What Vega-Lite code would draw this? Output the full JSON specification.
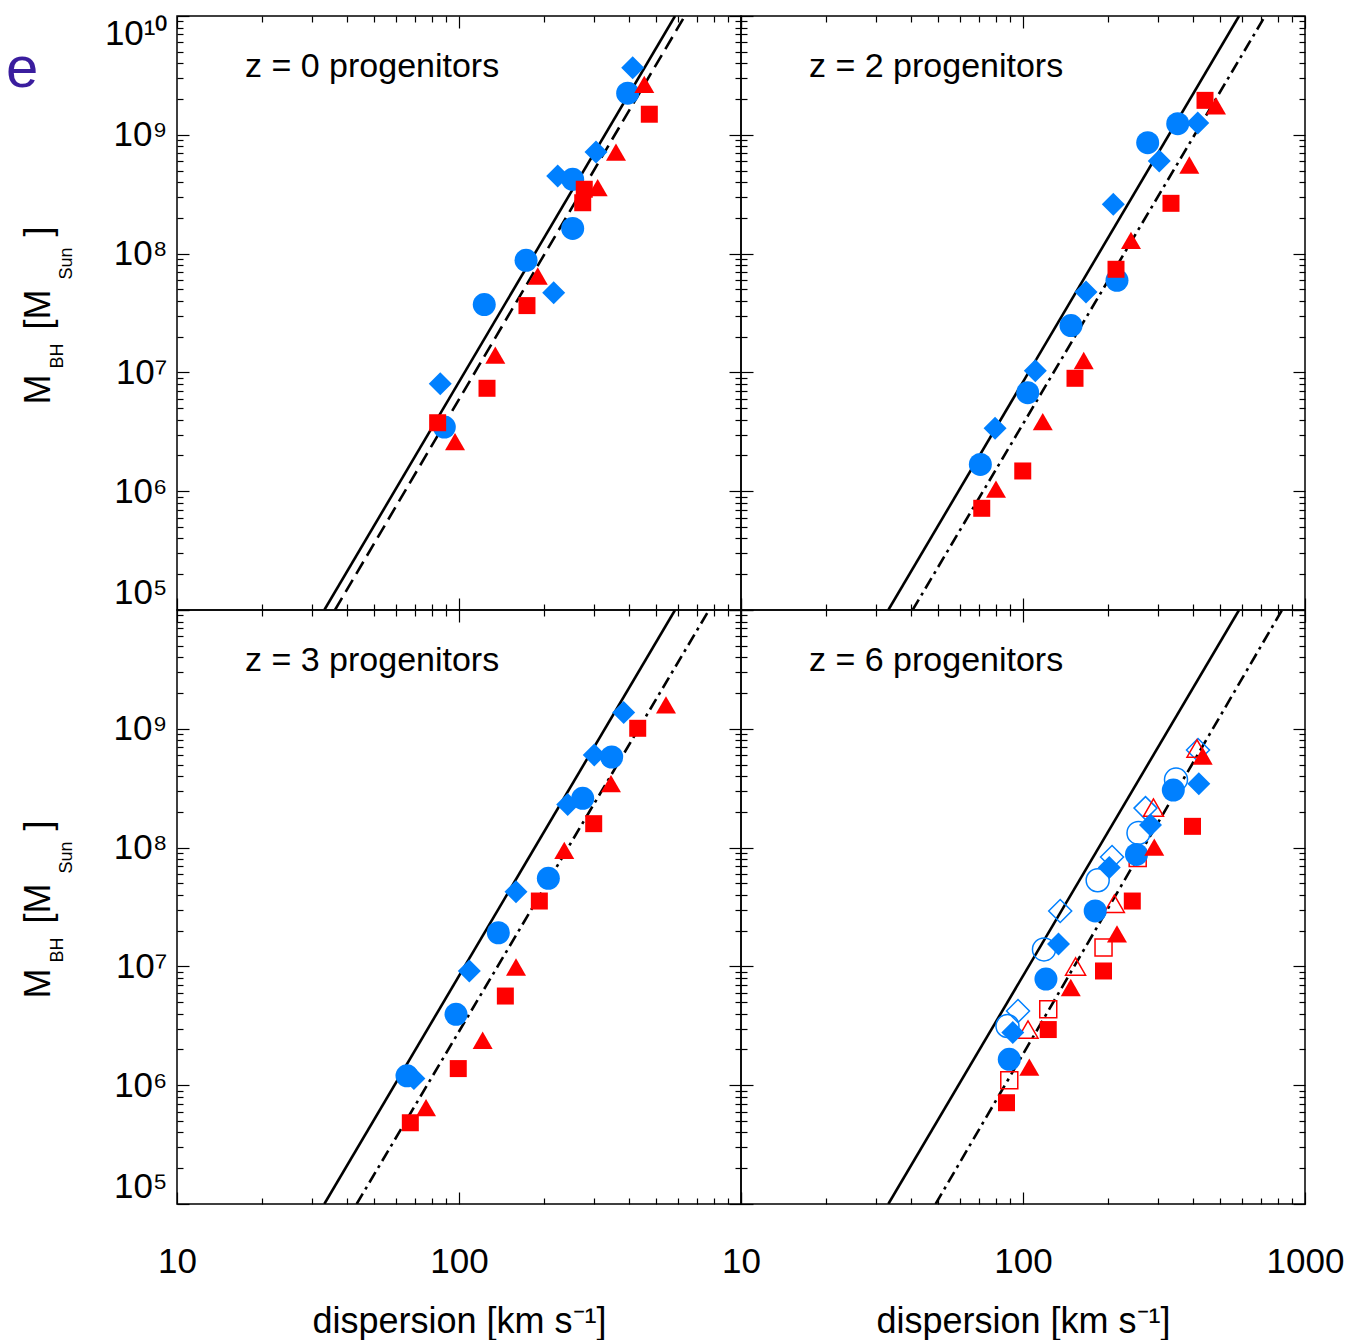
{
  "$schema": "https://vega.github.io/schema/vega-lite/v6.json",
  "background": "white",
  "padding": {"left": 5, "top": 14, "right": 0, "bottom": 0},
  "columns": 2,
  "spacing": 0,
  "bounds": "flush",
  "datasets": {
    "pts": [
      {"panel":"z0","fill":"filled","series":"B","sigma":413,"mass":3.67e9},
      {"panel":"z0","fill":"filled","series":"B","sigma":306,"mass":7.16e8},
      {"panel":"z0","fill":"filled","series":"B","sigma":223.9,"mass":4.5e8},
      {"panel":"z0","fill":"filled","series":"B","sigma":216.7,"mass":4.69e7},
      {"panel":"z0","fill":"filled","series":"B","sigma":85.8,"mass":8.03e6},
      {"panel":"z0","fill":"filled","series":"A","sigma":396.4,"mass":2.24e9},
      {"panel":"z0","fill":"filled","series":"A","sigma":253,"mass":4.22e8},
      {"panel":"z0","fill":"filled","series":"A","sigma":253,"mass":1.63e8},
      {"panel":"z0","fill":"filled","series":"A","sigma":172.9,"mass":8.78e7},
      {"panel":"z0","fill":"filled","series":"A","sigma":122.9,"mass":3.72e7},
      {"panel":"z0","fill":"filled","series":"A","sigma":88.7,"mass":3.47e6},
      {"panel":"z0","fill":"filled","series":"C","sigma":473,"mass":1.49e9},
      {"panel":"z0","fill":"filled","series":"C","sigma":278.1,"mass":3.48e8},
      {"panel":"z0","fill":"filled","series":"C","sigma":274.6,"mass":2.68e8},
      {"panel":"z0","fill":"filled","series":"C","sigma":174.2,"mass":3.65e7},
      {"panel":"z0","fill":"filled","series":"C","sigma":125.7,"mass":7.35e6},
      {"panel":"z0","fill":"filled","series":"C","sigma":84.0,"mass":3.77e6},
      {"panel":"z0","fill":"filled","series":"D","sigma":454,"mass":2.66e9},
      {"panel":"z0","fill":"filled","series":"D","sigma":360.3,"mass":7.16e8},
      {"panel":"z0","fill":"filled","series":"D","sigma":310.3,"mass":3.59e8},
      {"panel":"z0","fill":"filled","series":"D","sigma":190.2,"mass":6.48e7},
      {"panel":"z0","fill":"filled","series":"D","sigma":134.5,"mass":1.4e7},
      {"panel":"z0","fill":"filled","series":"D","sigma":96.8,"mass":2.61e6},

      {"panel":"z2","fill":"filled","series":"B","sigma":416.5,"mass":1.26e9},
      {"panel":"z2","fill":"filled","series":"B","sigma":304.2,"mass":6.02e8},
      {"panel":"z2","fill":"filled","series":"B","sigma":209.0,"mass":2.6e8},
      {"panel":"z2","fill":"filled","series":"B","sigma":167.3,"mass":4.75e7},
      {"panel":"z2","fill":"filled","series":"B","sigma":110.6,"mass":1.03e7},
      {"panel":"z2","fill":"filled","series":"B","sigma":79.6,"mass":3.38e6},
      {"panel":"z2","fill":"filled","series":"A","sigma":353.7,"mass":1.24e9},
      {"panel":"z2","fill":"filled","series":"A","sigma":276.8,"mass":8.58e8},
      {"panel":"z2","fill":"filled","series":"A","sigma":215.4,"mass":5.96e7},
      {"panel":"z2","fill":"filled","series":"A","sigma":148.0,"mass":2.48e7},
      {"panel":"z2","fill":"filled","series":"A","sigma":103.9,"mass":6.75e6},
      {"panel":"z2","fill":"filled","series":"A","sigma":70.6,"mass":1.68e6},
      {"panel":"z2","fill":"filled","series":"C","sigma":442,"mass":1.95e9},
      {"panel":"z2","fill":"filled","series":"C","sigma":334.8,"mass":2.65e8},
      {"panel":"z2","fill":"filled","series":"C","sigma":213.7,"mass":7.38e7},
      {"panel":"z2","fill":"filled","series":"C","sigma":152.9,"mass":8.92e6},
      {"panel":"z2","fill":"filled","series":"C","sigma":99.8,"mass":1.48e6},
      {"panel":"z2","fill":"filled","series":"C","sigma":71.4,"mass":7.18e5},
      {"panel":"z2","fill":"filled","series":"D","sigma":483.5,"mass":1.75e9},
      {"panel":"z2","fill":"filled","series":"D","sigma":388.9,"mass":5.57e8},
      {"panel":"z2","fill":"filled","series":"D","sigma":241.5,"mass":1.29e8},
      {"panel":"z2","fill":"filled","series":"D","sigma":164.2,"mass":1.26e7},
      {"panel":"z2","fill":"filled","series":"D","sigma":117.5,"mass":3.85e6},
      {"panel":"z2","fill":"filled","series":"D","sigma":80.2,"mass":1.04e6},

      {"panel":"z3","fill":"filled","series":"B","sigma":383.7,"mass":1.37e9},
      {"panel":"z3","fill":"filled","series":"B","sigma":301.8,"mass":6.02e8},
      {"panel":"z3","fill":"filled","series":"B","sigma":242.9,"mass":2.31e8},
      {"panel":"z3","fill":"filled","series":"B","sigma":159.3,"mass":4.25e7},
      {"panel":"z3","fill":"filled","series":"B","sigma":108.8,"mass":9.15e6},
      {"panel":"z3","fill":"filled","series":"B","sigma":69.2,"mass":1.14e6},
      {"panel":"z3","fill":"filled","series":"A","sigma":347.9,"mass":5.79e8},
      {"panel":"z3","fill":"filled","series":"A","sigma":274.6,"mass":2.6e8},
      {"panel":"z3","fill":"filled","series":"A","sigma":207.4,"mass":5.52e7},
      {"panel":"z3","fill":"filled","series":"A","sigma":137.9,"mass":1.92e7},
      {"panel":"z3","fill":"filled","series":"A","sigma":97.6,"mass":3.95e6},
      {"panel":"z3","fill":"filled","series":"A","sigma":65.4,"mass":1.2e6},
      {"panel":"z3","fill":"filled","series":"C","sigma":430.3,"mass":1.01e9},
      {"panel":"z3","fill":"filled","series":"C","sigma":300.4,"mass":1.59e8},
      {"panel":"z3","fill":"filled","series":"C","sigma":192.7,"mass":3.55e7},
      {"panel":"z3","fill":"filled","series":"C","sigma":146.0,"mass":5.63e6},
      {"panel":"z3","fill":"filled","series":"C","sigma":99.4,"mass":1.38e6},
      {"panel":"z3","fill":"filled","series":"C","sigma":67.2,"mass":4.83e5},
      {"panel":"z3","fill":"filled","series":"D","sigma":542,"mass":1.59e9},
      {"panel":"z3","fill":"filled","series":"D","sigma":345.9,"mass":3.45e8},
      {"panel":"z3","fill":"filled","series":"D","sigma":236.2,"mass":9.49e7},
      {"panel":"z3","fill":"filled","series":"D","sigma":159.3,"mass":9.89e6},
      {"panel":"z3","fill":"filled","series":"D","sigma":121.3,"mass":2.39e6},
      {"panel":"z3","fill":"filled","series":"D","sigma":76.4,"mass":6.47e5},

      {"panel":"z6","fill":"open","series":"B","sigma":417.5,"mass":6.63e8},
      {"panel":"z6","fill":"open","series":"B","sigma":271.9,"mass":2.15e8},
      {"panel":"z6","fill":"open","series":"B","sigma":206.9,"mass":8.34e7},
      {"panel":"z6","fill":"open","series":"B","sigma":135.5,"mass":2.93e7},
      {"panel":"z6","fill":"open","series":"B","sigma":96.0,"mass":4.21e6},
      {"panel":"z6","fill":"open","series":"A","sigma":348.8,"mass":3.74e8},
      {"panel":"z6","fill":"open","series":"A","sigma":256.8,"mass":1.33e8},
      {"panel":"z6","fill":"open","series":"A","sigma":184.0,"mass":5.31e7},
      {"panel":"z6","fill":"open","series":"A","sigma":118.7,"mass":1.39e7},
      {"panel":"z6","fill":"open","series":"A","sigma":88.1,"mass":3.15e6},
      {"panel":"z6","fill":"open","series":"C","sigma":255.1,"mass":8.17e7},
      {"panel":"z6","fill":"open","series":"C","sigma":193.0,"mass":1.44e7},
      {"panel":"z6","fill":"open","series":"C","sigma":122.9,"mass":4.35e6},
      {"panel":"z6","fill":"open","series":"C","sigma":89.4,"mass":1.1e6},
      {"panel":"z6","fill":"open","series":"D","sigma":414,"mass":6.83e8},
      {"panel":"z6","fill":"open","series":"D","sigma":290.2,"mass":2.17e8},
      {"panel":"z6","fill":"open","series":"D","sigma":210.8,"mass":3.37e7},
      {"panel":"z6","fill":"open","series":"D","sigma":153.6,"mass":9.98e6},
      {"panel":"z6","fill":"open","series":"D","sigma":104.2,"mass":2.94e6},
      {"panel":"z6","fill":"filled","series":"B","sigma":420.2,"mass":3.45e8},
      {"panel":"z6","fill":"filled","series":"B","sigma":283.2,"mass":1.55e8},
      {"panel":"z6","fill":"filled","series":"B","sigma":202.2,"mass":6.8e7},
      {"panel":"z6","fill":"filled","series":"B","sigma":133.6,"mass":1.54e7},
      {"panel":"z6","fill":"filled","series":"B","sigma":92.0,"mass":2.78e6},
      {"panel":"z6","fill":"filled","series":"A","sigma":341.2,"mass":3.05e8},
      {"panel":"z6","fill":"filled","series":"A","sigma":252.6,"mass":8.75e7},
      {"panel":"z6","fill":"filled","series":"A","sigma":180.3,"mass":2.93e7},
      {"panel":"z6","fill":"filled","series":"A","sigma":120.6,"mass":7.83e6},
      {"panel":"z6","fill":"filled","series":"A","sigma":89.4,"mass":1.65e6},
      {"panel":"z6","fill":"filled","series":"C","sigma":399,"mass":1.51e8},
      {"panel":"z6","fill":"filled","series":"C","sigma":244.1,"mass":3.55e7},
      {"panel":"z6","fill":"filled","series":"C","sigma":193.0,"mass":9.15e6},
      {"panel":"z6","fill":"filled","series":"C","sigma":122.9,"mass":2.94e6},
      {"panel":"z6","fill":"filled","series":"C","sigma":87.4,"mass":7.12e5},
      {"panel":"z6","fill":"filled","series":"D","sigma":433.7,"mass":5.9e8},
      {"panel":"z6","fill":"filled","series":"D","sigma":292.1,"mass":1.01e8},
      {"panel":"z6","fill":"filled","series":"D","sigma":215.4,"mass":1.88e7},
      {"panel":"z6","fill":"filled","series":"D","sigma":147.7,"mass":6.64e6},
      {"panel":"z6","fill":"filled","series":"D","sigma":105.3,"mass":1.42e6}
    ],
    "lines": [
      {"panel":"z0","kind":"solid","sigma":33.3,"mass":1e5},
      {"panel":"z0","kind":"solid","sigma":583.6,"mass":1e10},
      {"panel":"z0","kind":"dashed","sigma":36.32,"mass":1e5},
      {"panel":"z0","kind":"dashed","sigma":632.0,"mass":1e10},
      {"panel":"z2","kind":"solid","sigma":33.3,"mass":1e5},
      {"panel":"z2","kind":"solid","sigma":583.6,"mass":1e10},
      {"panel":"z2","kind":"dashdot","sigma":40.6,"mass":1e5},
      {"panel":"z2","kind":"dashdot","sigma":722.1,"mass":1e10},
      {"panel":"z3","kind":"solid","sigma":33.3,"mass":1e5},
      {"panel":"z3","kind":"solid","sigma":583.6,"mass":1e10},
      {"panel":"z3","kind":"dashdot","sigma":43.35,"mass":1e5},
      {"panel":"z3","kind":"dashdot","sigma":770.4,"mass":1e10},
      {"panel":"z6","kind":"solid","sigma":33.3,"mass":1e5},
      {"panel":"z6","kind":"solid","sigma":583.6,"mass":1e10},
      {"panel":"z6","kind":"dashdot","sigma":48.99,"mass":1e5},
      {"panel":"z6","kind":"dashdot","sigma":829.2,"mass":1e10}
    ],
    "labels": [
      {"panel":"z0","text":"z = 0 progenitors","sigma":17.42,"mass":3.07e9},
      {"panel":"z2","text":"z = 2 progenitors","sigma":17.42,"mass":3.07e9},
      {"panel":"z3","text":"z = 3 progenitors","sigma":17.42,"mass":3.07e9},
      {"panel":"z6","text":"z = 6 progenitors","sigma":17.42,"mass":3.07e9}
    ],
    "annot": [
      {"text":"e","sigma":2.475,"mass":2.53e9}
    ]
  },
  "concat": [
    {
      "width": 564, "height": 594,
      "resolve": {"axis": {"x": "independent", "y": "independent"}},
      "layer": [
        {
          "data": {"name": "lines"},
          "transform": [{"filter": "datum.panel == 'z0' && datum.kind == 'solid'"}],
          "mark": {"type": "line", "color": "black", "strokeWidth": 2.6, "clip": true},
          "encoding": {
            "x": {"field": "sigma", "type": "quantitative", "scale": {"type": "log", "domain": [10, 1000], "nice": false},
                  "axis": {"orient": "bottom", "values": [10, 100, 1000], "tickSize": -12, "labels": false, "title": null}},
            "y": {"field": "mass", "type": "quantitative", "scale": {"type": "log", "domain": [1e5, 1e10], "nice": false},
                  "axis": {"orient": "left", "values": [1e5, 1e6, 1e7, 1e8, 1e9, 1e10], "tickSize": -12, "labelPadding": 22, "labelFlush": true,
                           "labelExpr": "datum.value > 5e9 ? '10\u00b9\u2070' : datum.value > 5e8 ? '10\u2079' : datum.value > 5e7 ? '10\u2078' : datum.value > 5e6 ? '10\u2077' : datum.value > 5e5 ? '10\u2076' : '10\u2075'",
                           "title": "M", "titleX": -128, "titleY": 388, "titleAngle": 270, "titleAlign": "left", "titleBaseline": "alphabetic", "titleFontSize": 36}}
          }
        },
        {
          "data": {"name": "lines"},
          "transform": [{"filter": "datum.panel == 'z0' && datum.kind != 'solid'"}],
          "mark": {"type": "line", "color": "black", "strokeWidth": 2.6, "clip": true},
          "encoding": {
            "x": {"field": "sigma", "type": "quantitative", "scale": {"type": "log", "domain": [10, 1000], "nice": false},
                  "axis": {"orient": "bottom", "values": [20,30,40,50,60,70,80,90,200,300,400,500,600,700,800,900], "tickSize": -6, "labels": false, "title": null}},
            "y": {"field": "mass", "type": "quantitative", "scale": {"type": "log", "domain": [1e5, 1e10], "nice": false},
                  "axis": {"orient": "left", "values": [2e5,3e5,4e5,5e5,6e5,7e5,8e5,9e5,2e6,3e6,4e6,5e6,6e6,7e6,8e6,9e6,2e7,3e7,4e7,5e7,6e7,7e7,8e7,9e7,2e8,3e8,4e8,5e8,6e8,7e8,8e8,9e8,2e9,3e9,4e9,5e9,6e9,7e9,8e9,9e9], "tickSize": -6, "labels": false,
                           "title": "BH", "titleX": -115, "titleY": 352, "titleAngle": 270, "titleAlign": "left", "titleBaseline": "alphabetic", "titleFontSize": 18}},
            "strokeDash": {"field": "kind", "type": "nominal", "scale": {"domain": ["dashed", "dashdot"], "range": [[14, 7], [12, 5, 3, 5]]}, "legend": null}
          }
        },
        {
          "data": {"name": "pts"},
          "transform": [{"filter": "datum.panel == 'z0' && datum.fill == 'open'"}],
          "mark": {"type": "point", "filled": false, "strokeWidth": 1.5, "opacity": 1},
          "encoding": {
            "x": {"field": "sigma", "type": "quantitative", "scale": {"type": "log", "domain": [10, 1000], "nice": false},
                  "axis": {"orient": "top", "values": [10, 100, 1000], "tickSize": -12, "labels": false, "title": null}},
            "y": {"field": "mass", "type": "quantitative", "scale": {"type": "log", "domain": [1e5, 1e10], "nice": false},
                  "axis": {"orient": "right", "values": [1e5, 1e6, 1e7, 1e8, 1e9, 1e10], "tickSize": -12, "labels": false,
                           "title": "[M", "titleX": -692, "titleY": 313, "titleAngle": 270, "titleAlign": "left", "titleBaseline": "alphabetic", "titleFontSize": 36}},
            "shape": {"field": "series", "type": "nominal", "scale": {"domain": ["A", "B", "C", "D"], "range": ["circle", "diamond", "square", "triangle-up"]}, "legend": null},
            "color": {"field": "series", "type": "nominal", "scale": {"domain": ["A", "B", "C", "D"], "range": ["#0080ff", "#0080ff", "#ff0000", "#ff0000"]}, "legend": null},
            "size": {"field": "series", "type": "nominal", "scale": {"type": "ordinal", "domain": ["A", "B", "C", "D"], "range": [529, 529, 289, 400]}, "legend": null}
          }
        },
        {
          "data": {"name": "pts"},
          "transform": [{"filter": "datum.panel == 'z0' && datum.fill == 'filled'"}],
          "mark": {"type": "point", "filled": true, "strokeWidth": 0, "opacity": 1},
          "encoding": {
            "x": {"field": "sigma", "type": "quantitative", "scale": {"type": "log", "domain": [10, 1000], "nice": false},
                  "axis": {"orient": "top", "values": [20,30,40,50,60,70,80,90,200,300,400,500,600,700,800,900], "tickSize": -6, "labels": false, "title": null}},
            "y": {"field": "mass", "type": "quantitative", "scale": {"type": "log", "domain": [1e5, 1e10], "nice": false},
                  "axis": {"orient": "right", "values": [2e5,3e5,4e5,5e5,6e5,7e5,8e5,9e5,2e6,3e6,4e6,5e6,6e6,7e6,8e6,9e6,2e7,3e7,4e7,5e7,6e7,7e7,8e7,9e7,2e8,3e8,4e8,5e8,6e8,7e8,8e8,9e8,2e9,3e9,4e9,5e9,6e9,7e9,8e9,9e9], "tickSize": -6, "labels": false,
                           "title": "Sun", "titleX": -670, "titleY": 263, "titleAngle": 270, "titleAlign": "left", "titleBaseline": "alphabetic", "titleFontSize": 18}},
            "shape": {"field": "series", "type": "nominal", "scale": {"domain": ["A", "B", "C", "D"], "range": ["circle", "diamond", "square", "triangle-up"]}, "legend": null},
            "color": {"field": "series", "type": "nominal", "scale": {"domain": ["A", "B", "C", "D"], "range": ["#0080ff", "#0080ff", "#ff0000", "#ff0000"]}, "legend": null},
            "size": {"field": "series", "type": "nominal", "scale": {"type": "ordinal", "domain": ["A", "B", "C", "D"], "range": [529, 529, 289, 400]}, "legend": null}
          }
        },
        {
          "data": {"name": "labels"},
          "transform": [{"filter": "datum.panel == 'z0'"}],
          "mark": {"type": "text", "align": "left", "baseline": "alphabetic", "fontSize": 34, "font": "Liberation Sans", "color": "black"},
          "encoding": {
            "x": {"field": "sigma", "type": "quantitative", "scale": {"type": "log", "domain": [10, 1000], "nice": false}, "axis": null},
            "y": {"field": "mass", "type": "quantitative", "scale": {"type": "log", "domain": [1e5, 1e10], "nice": false},
                  "axis": {"orient": "left", "ticks": false, "labels": false, "domain": false,
                           "title": "]", "titleX": -128, "titleY": 220, "titleAngle": 270, "titleAlign": "left", "titleBaseline": "alphabetic", "titleFontSize": 36}},
            "text": {"field": "text", "type": "nominal"}
          }
        },
        {
          "data": {"name": "annot"},
          "mark": {"type": "text", "align": "left", "baseline": "alphabetic", "fontSize": 58, "font": "Liberation Sans", "color": "#3a1d9e", "clip": false},
          "encoding": {
            "x": {"field": "sigma", "type": "quantitative", "scale": {"type": "log", "domain": [10, 1000], "nice": false}, "axis": null},
            "y": {"field": "mass", "type": "quantitative", "scale": {"type": "log", "domain": [1e5, 1e10], "nice": false}, "axis": null},
            "text": {"field": "text", "type": "nominal"}
          }
        }
      ]
    },
    {
      "width": 564, "height": 594,
      "resolve": {"axis": {"x": "independent", "y": "independent"}},
      "layer": [
        {
          "data": {"name": "lines"},
          "transform": [{"filter": "datum.panel == 'z2' && datum.kind == 'solid'"}],
          "mark": {"type": "line", "color": "black", "strokeWidth": 2.6, "clip": true},
          "encoding": {
            "x": {"field": "sigma", "type": "quantitative", "scale": {"type": "log", "domain": [10, 1000], "nice": false},
                  "axis": {"orient": "bottom", "values": [10, 100, 1000], "tickSize": -12, "labels": false, "title": null}},
            "y": {"field": "mass", "type": "quantitative", "scale": {"type": "log", "domain": [1e5, 1e10], "nice": false},
                  "axis": {"orient": "left", "values": [1e5, 1e6, 1e7, 1e8, 1e9, 1e10], "tickSize": -12, "labels": false, "title": null}}
          }
        },
        {
          "data": {"name": "lines"},
          "transform": [{"filter": "datum.panel == 'z2' && datum.kind != 'solid'"}],
          "mark": {"type": "line", "color": "black", "strokeWidth": 2.6, "clip": true},
          "encoding": {
            "x": {"field": "sigma", "type": "quantitative", "scale": {"type": "log", "domain": [10, 1000], "nice": false},
                  "axis": {"orient": "bottom", "values": [20,30,40,50,60,70,80,90,200,300,400,500,600,700,800,900], "tickSize": -6, "labels": false, "title": null}},
            "y": {"field": "mass", "type": "quantitative", "scale": {"type": "log", "domain": [1e5, 1e10], "nice": false},
                  "axis": {"orient": "left", "values": [2e5,3e5,4e5,5e5,6e5,7e5,8e5,9e5,2e6,3e6,4e6,5e6,6e6,7e6,8e6,9e6,2e7,3e7,4e7,5e7,6e7,7e7,8e7,9e7,2e8,3e8,4e8,5e8,6e8,7e8,8e8,9e8,2e9,3e9,4e9,5e9,6e9,7e9,8e9,9e9], "tickSize": -6, "labels": false, "title": null}},
            "strokeDash": {"field": "kind", "type": "nominal", "scale": {"domain": ["dashed", "dashdot"], "range": [[14, 7], [12, 5, 3, 5]]}, "legend": null}
          }
        },
        {
          "data": {"name": "pts"},
          "transform": [{"filter": "datum.panel == 'z2' && datum.fill == 'open'"}],
          "mark": {"type": "point", "filled": false, "strokeWidth": 1.5, "opacity": 1},
          "encoding": {
            "x": {"field": "sigma", "type": "quantitative", "scale": {"type": "log", "domain": [10, 1000], "nice": false},
                  "axis": {"orient": "top", "values": [10, 100, 1000], "tickSize": -12, "labels": false, "title": null}},
            "y": {"field": "mass", "type": "quantitative", "scale": {"type": "log", "domain": [1e5, 1e10], "nice": false},
                  "axis": {"orient": "right", "values": [1e5, 1e6, 1e7, 1e8, 1e9, 1e10], "tickSize": -12, "labels": false, "title": null}},
            "shape": {"field": "series", "type": "nominal", "scale": {"domain": ["A", "B", "C", "D"], "range": ["circle", "diamond", "square", "triangle-up"]}, "legend": null},
            "color": {"field": "series", "type": "nominal", "scale": {"domain": ["A", "B", "C", "D"], "range": ["#0080ff", "#0080ff", "#ff0000", "#ff0000"]}, "legend": null},
            "size": {"field": "series", "type": "nominal", "scale": {"type": "ordinal", "domain": ["A", "B", "C", "D"], "range": [529, 529, 289, 400]}, "legend": null}
          }
        },
        {
          "data": {"name": "pts"},
          "transform": [{"filter": "datum.panel == 'z2' && datum.fill == 'filled'"}],
          "mark": {"type": "point", "filled": true, "strokeWidth": 0, "opacity": 1},
          "encoding": {
            "x": {"field": "sigma", "type": "quantitative", "scale": {"type": "log", "domain": [10, 1000], "nice": false},
                  "axis": {"orient": "top", "values": [20,30,40,50,60,70,80,90,200,300,400,500,600,700,800,900], "tickSize": -6, "labels": false, "title": null}},
            "y": {"field": "mass", "type": "quantitative", "scale": {"type": "log", "domain": [1e5, 1e10], "nice": false},
                  "axis": {"orient": "right", "values": [2e5,3e5,4e5,5e5,6e5,7e5,8e5,9e5,2e6,3e6,4e6,5e6,6e6,7e6,8e6,9e6,2e7,3e7,4e7,5e7,6e7,7e7,8e7,9e7,2e8,3e8,4e8,5e8,6e8,7e8,8e8,9e8,2e9,3e9,4e9,5e9,6e9,7e9,8e9,9e9], "tickSize": -6, "labels": false, "title": null}},
            "shape": {"field": "series", "type": "nominal", "scale": {"domain": ["A", "B", "C", "D"], "range": ["circle", "diamond", "square", "triangle-up"]}, "legend": null},
            "color": {"field": "series", "type": "nominal", "scale": {"domain": ["A", "B", "C", "D"], "range": ["#0080ff", "#0080ff", "#ff0000", "#ff0000"]}, "legend": null},
            "size": {"field": "series", "type": "nominal", "scale": {"type": "ordinal", "domain": ["A", "B", "C", "D"], "range": [529, 529, 289, 400]}, "legend": null}
          }
        },
        {
          "data": {"name": "labels"},
          "transform": [{"filter": "datum.panel == 'z2'"}],
          "mark": {"type": "text", "align": "left", "baseline": "alphabetic", "fontSize": 34, "font": "Liberation Sans", "color": "black"},
          "encoding": {
            "x": {"field": "sigma", "type": "quantitative", "scale": {"type": "log", "domain": [10, 1000], "nice": false}, "axis": null},
            "y": {"field": "mass", "type": "quantitative", "scale": {"type": "log", "domain": [1e5, 1e10], "nice": false}, "axis": null},
            "text": {"field": "text", "type": "nominal"}
          }
        }
      ]
    },
    {
      "width": 564, "height": 594,
      "resolve": {"axis": {"x": "independent", "y": "independent"}},
      "layer": [
        {
          "data": {"name": "lines"},
          "transform": [{"filter": "datum.panel == 'z3' && datum.kind == 'solid'"}],
          "mark": {"type": "line", "color": "black", "strokeWidth": 2.6, "clip": true},
          "encoding": {
            "x": {"field": "sigma", "type": "quantitative", "scale": {"type": "log", "domain": [10, 1000], "nice": false},
                  "axis": {"orient": "bottom", "values": [10, 100, 1000], "tickSize": -12, "labelPadding": 52,
                           "labelExpr": "datum.value < 50 ? '10' : datum.value < 500 ? '100' : ''",
                           "title": "dispersion [km s\u207b\u00b9]", "titleX": 282, "titleY": 128, "titleAngle": 0, "titleAlign": "center", "titleBaseline": "alphabetic", "titleFontSize": 36}},
            "y": {"field": "mass", "type": "quantitative", "scale": {"type": "log", "domain": [1e5, 1e10], "nice": false},
                  "axis": {"orient": "left", "values": [1e5, 1e6, 1e7, 1e8, 1e9, 1e10], "tickSize": -12, "labelPadding": 22, "labelFlush": true,
                           "labelExpr": "datum.value > 5e9 ? '' : datum.value > 5e8 ? '10\u2079' : datum.value > 5e7 ? '10\u2078' : datum.value > 5e6 ? '10\u2077' : datum.value > 5e5 ? '10\u2076' : '10\u2075'",
                           "title": "M", "titleX": -128, "titleY": 388, "titleAngle": 270, "titleAlign": "left", "titleBaseline": "alphabetic", "titleFontSize": 36}}
          }
        },
        {
          "data": {"name": "lines"},
          "transform": [{"filter": "datum.panel == 'z3' && datum.kind != 'solid'"}],
          "mark": {"type": "line", "color": "black", "strokeWidth": 2.6, "clip": true},
          "encoding": {
            "x": {"field": "sigma", "type": "quantitative", "scale": {"type": "log", "domain": [10, 1000], "nice": false},
                  "axis": {"orient": "bottom", "values": [20,30,40,50,60,70,80,90,200,300,400,500,600,700,800,900], "tickSize": -6, "labels": false, "title": null}},
            "y": {"field": "mass", "type": "quantitative", "scale": {"type": "log", "domain": [1e5, 1e10], "nice": false},
                  "axis": {"orient": "left", "values": [2e5,3e5,4e5,5e5,6e5,7e5,8e5,9e5,2e6,3e6,4e6,5e6,6e6,7e6,8e6,9e6,2e7,3e7,4e7,5e7,6e7,7e7,8e7,9e7,2e8,3e8,4e8,5e8,6e8,7e8,8e8,9e8,2e9,3e9,4e9,5e9,6e9,7e9,8e9,9e9], "tickSize": -6, "labels": false,
                           "title": "BH", "titleX": -115, "titleY": 352, "titleAngle": 270, "titleAlign": "left", "titleBaseline": "alphabetic", "titleFontSize": 18}},
            "strokeDash": {"field": "kind", "type": "nominal", "scale": {"domain": ["dashed", "dashdot"], "range": [[14, 7], [12, 5, 3, 5]]}, "legend": null}
          }
        },
        {
          "data": {"name": "pts"},
          "transform": [{"filter": "datum.panel == 'z3' && datum.fill == 'open'"}],
          "mark": {"type": "point", "filled": false, "strokeWidth": 1.5, "opacity": 1},
          "encoding": {
            "x": {"field": "sigma", "type": "quantitative", "scale": {"type": "log", "domain": [10, 1000], "nice": false},
                  "axis": {"orient": "top", "values": [10, 100, 1000], "tickSize": -12, "labels": false, "title": null}},
            "y": {"field": "mass", "type": "quantitative", "scale": {"type": "log", "domain": [1e5, 1e10], "nice": false},
                  "axis": {"orient": "right", "values": [1e5, 1e6, 1e7, 1e8, 1e9, 1e10], "tickSize": -12, "labels": false,
                           "title": "[M", "titleX": -692, "titleY": 313, "titleAngle": 270, "titleAlign": "left", "titleBaseline": "alphabetic", "titleFontSize": 36}},
            "shape": {"field": "series", "type": "nominal", "scale": {"domain": ["A", "B", "C", "D"], "range": ["circle", "diamond", "square", "triangle-up"]}, "legend": null},
            "color": {"field": "series", "type": "nominal", "scale": {"domain": ["A", "B", "C", "D"], "range": ["#0080ff", "#0080ff", "#ff0000", "#ff0000"]}, "legend": null},
            "size": {"field": "series", "type": "nominal", "scale": {"type": "ordinal", "domain": ["A", "B", "C", "D"], "range": [529, 529, 289, 400]}, "legend": null}
          }
        },
        {
          "data": {"name": "pts"},
          "transform": [{"filter": "datum.panel == 'z3' && datum.fill == 'filled'"}],
          "mark": {"type": "point", "filled": true, "strokeWidth": 0, "opacity": 1},
          "encoding": {
            "x": {"field": "sigma", "type": "quantitative", "scale": {"type": "log", "domain": [10, 1000], "nice": false},
                  "axis": {"orient": "top", "values": [20,30,40,50,60,70,80,90,200,300,400,500,600,700,800,900], "tickSize": -6, "labels": false, "title": null}},
            "y": {"field": "mass", "type": "quantitative", "scale": {"type": "log", "domain": [1e5, 1e10], "nice": false},
                  "axis": {"orient": "right", "values": [2e5,3e5,4e5,5e5,6e5,7e5,8e5,9e5,2e6,3e6,4e6,5e6,6e6,7e6,8e6,9e6,2e7,3e7,4e7,5e7,6e7,7e7,8e7,9e7,2e8,3e8,4e8,5e8,6e8,7e8,8e8,9e8,2e9,3e9,4e9,5e9,6e9,7e9,8e9,9e9], "tickSize": -6, "labels": false,
                           "title": "Sun", "titleX": -670, "titleY": 263, "titleAngle": 270, "titleAlign": "left", "titleBaseline": "alphabetic", "titleFontSize": 18}},
            "shape": {"field": "series", "type": "nominal", "scale": {"domain": ["A", "B", "C", "D"], "range": ["circle", "diamond", "square", "triangle-up"]}, "legend": null},
            "color": {"field": "series", "type": "nominal", "scale": {"domain": ["A", "B", "C", "D"], "range": ["#0080ff", "#0080ff", "#ff0000", "#ff0000"]}, "legend": null},
            "size": {"field": "series", "type": "nominal", "scale": {"type": "ordinal", "domain": ["A", "B", "C", "D"], "range": [529, 529, 289, 400]}, "legend": null}
          }
        },
        {
          "data": {"name": "labels"},
          "transform": [{"filter": "datum.panel == 'z3'"}],
          "mark": {"type": "text", "align": "left", "baseline": "alphabetic", "fontSize": 34, "font": "Liberation Sans", "color": "black"},
          "encoding": {
            "x": {"field": "sigma", "type": "quantitative", "scale": {"type": "log", "domain": [10, 1000], "nice": false}, "axis": null},
            "y": {"field": "mass", "type": "quantitative", "scale": {"type": "log", "domain": [1e5, 1e10], "nice": false},
                  "axis": {"orient": "left", "ticks": false, "labels": false, "domain": false,
                           "title": "]", "titleX": -128, "titleY": 220, "titleAngle": 270, "titleAlign": "left", "titleBaseline": "alphabetic", "titleFontSize": 36}},
            "text": {"field": "text", "type": "nominal"}
          }
        }
      ]
    },
    {
      "width": 564, "height": 594,
      "resolve": {"axis": {"x": "independent", "y": "independent"}},
      "layer": [
        {
          "data": {"name": "lines"},
          "transform": [{"filter": "datum.panel == 'z6' && datum.kind == 'solid'"}],
          "mark": {"type": "line", "color": "black", "strokeWidth": 2.6, "clip": true},
          "encoding": {
            "x": {"field": "sigma", "type": "quantitative", "scale": {"type": "log", "domain": [10, 1000], "nice": false},
                  "axis": {"orient": "bottom", "values": [10, 100, 1000], "tickSize": -12, "labelPadding": 52,
                           "labelExpr": "datum.value < 50 ? '10' : datum.value < 500 ? '100' : '1000'",
                           "title": "dispersion [km s\u207b\u00b9]", "titleX": 282, "titleY": 128, "titleAngle": 0, "titleAlign": "center", "titleBaseline": "alphabetic", "titleFontSize": 36}},
            "y": {"field": "mass", "type": "quantitative", "scale": {"type": "log", "domain": [1e5, 1e10], "nice": false},
                  "axis": {"orient": "left", "values": [1e5, 1e6, 1e7, 1e8, 1e9, 1e10], "tickSize": -12, "labels": false, "title": null}}
          }
        },
        {
          "data": {"name": "lines"},
          "transform": [{"filter": "datum.panel == 'z6' && datum.kind != 'solid'"}],
          "mark": {"type": "line", "color": "black", "strokeWidth": 2.6, "clip": true},
          "encoding": {
            "x": {"field": "sigma", "type": "quantitative", "scale": {"type": "log", "domain": [10, 1000], "nice": false},
                  "axis": {"orient": "bottom", "values": [20,30,40,50,60,70,80,90,200,300,400,500,600,700,800,900], "tickSize": -6, "labels": false, "title": null}},
            "y": {"field": "mass", "type": "quantitative", "scale": {"type": "log", "domain": [1e5, 1e10], "nice": false},
                  "axis": {"orient": "left", "values": [2e5,3e5,4e5,5e5,6e5,7e5,8e5,9e5,2e6,3e6,4e6,5e6,6e6,7e6,8e6,9e6,2e7,3e7,4e7,5e7,6e7,7e7,8e7,9e7,2e8,3e8,4e8,5e8,6e8,7e8,8e8,9e8,2e9,3e9,4e9,5e9,6e9,7e9,8e9,9e9], "tickSize": -6, "labels": false, "title": null}},
            "strokeDash": {"field": "kind", "type": "nominal", "scale": {"domain": ["dashed", "dashdot"], "range": [[14, 7], [12, 5, 3, 5]]}, "legend": null}
          }
        },
        {
          "data": {"name": "pts"},
          "transform": [{"filter": "datum.panel == 'z6' && datum.fill == 'open'"}],
          "mark": {"type": "point", "filled": false, "strokeWidth": 1.5, "opacity": 1},
          "encoding": {
            "x": {"field": "sigma", "type": "quantitative", "scale": {"type": "log", "domain": [10, 1000], "nice": false},
                  "axis": {"orient": "top", "values": [10, 100, 1000], "tickSize": -12, "labels": false, "title": null}},
            "y": {"field": "mass", "type": "quantitative", "scale": {"type": "log", "domain": [1e5, 1e10], "nice": false},
                  "axis": {"orient": "right", "values": [1e5, 1e6, 1e7, 1e8, 1e9, 1e10], "tickSize": -12, "labels": false, "title": null}},
            "shape": {"field": "series", "type": "nominal", "scale": {"domain": ["A", "B", "C", "D"], "range": ["circle", "diamond", "square", "triangle-up"]}, "legend": null},
            "color": {"field": "series", "type": "nominal", "scale": {"domain": ["A", "B", "C", "D"], "range": ["#0080ff", "#0080ff", "#ff0000", "#ff0000"]}, "legend": null},
            "size": {"field": "series", "type": "nominal", "scale": {"type": "ordinal", "domain": ["A", "B", "C", "D"], "range": [529, 529, 289, 400]}, "legend": null}
          }
        },
        {
          "data": {"name": "pts"},
          "transform": [{"filter": "datum.panel == 'z6' && datum.fill == 'filled'"}],
          "mark": {"type": "point", "filled": true, "strokeWidth": 0, "opacity": 1},
          "encoding": {
            "x": {"field": "sigma", "type": "quantitative", "scale": {"type": "log", "domain": [10, 1000], "nice": false},
                  "axis": {"orient": "top", "values": [20,30,40,50,60,70,80,90,200,300,400,500,600,700,800,900], "tickSize": -6, "labels": false, "title": null}},
            "y": {"field": "mass", "type": "quantitative", "scale": {"type": "log", "domain": [1e5, 1e10], "nice": false},
                  "axis": {"orient": "right", "values": [2e5,3e5,4e5,5e5,6e5,7e5,8e5,9e5,2e6,3e6,4e6,5e6,6e6,7e6,8e6,9e6,2e7,3e7,4e7,5e7,6e7,7e7,8e7,9e7,2e8,3e8,4e8,5e8,6e8,7e8,8e8,9e8,2e9,3e9,4e9,5e9,6e9,7e9,8e9,9e9], "tickSize": -6, "labels": false, "title": null}},
            "shape": {"field": "series", "type": "nominal", "scale": {"domain": ["A", "B", "C", "D"], "range": ["circle", "diamond", "square", "triangle-up"]}, "legend": null},
            "color": {"field": "series", "type": "nominal", "scale": {"domain": ["A", "B", "C", "D"], "range": ["#0080ff", "#0080ff", "#ff0000", "#ff0000"]}, "legend": null},
            "size": {"field": "series", "type": "nominal", "scale": {"type": "ordinal", "domain": ["A", "B", "C", "D"], "range": [529, 529, 289, 400]}, "legend": null}
          }
        },
        {
          "data": {"name": "labels"},
          "transform": [{"filter": "datum.panel == 'z6'"}],
          "mark": {"type": "text", "align": "left", "baseline": "alphabetic", "fontSize": 34, "font": "Liberation Sans", "color": "black"},
          "encoding": {
            "x": {"field": "sigma", "type": "quantitative", "scale": {"type": "log", "domain": [10, 1000], "nice": false}, "axis": null},
            "y": {"field": "mass", "type": "quantitative", "scale": {"type": "log", "domain": [1e5, 1e10], "nice": false}, "axis": null},
            "text": {"field": "text", "type": "nominal"}
          }
        }
      ]
    }
  ],
  "config": {
    "font": "Liberation Sans",
    "view": {"stroke": "black", "strokeWidth": 1.5},
    "axis": {"grid": false, "domain": false, "tickColor": "black", "tickWidth": 1.2, "labelColor": "black", "labelFont": "Liberation Sans", "labelFontSize": 35,
             "titleFont": "Liberation Sans", "titleColor": "black", "titleFontWeight": "normal", "labelOverlap": false, "labelFlush": false}
  }
}
